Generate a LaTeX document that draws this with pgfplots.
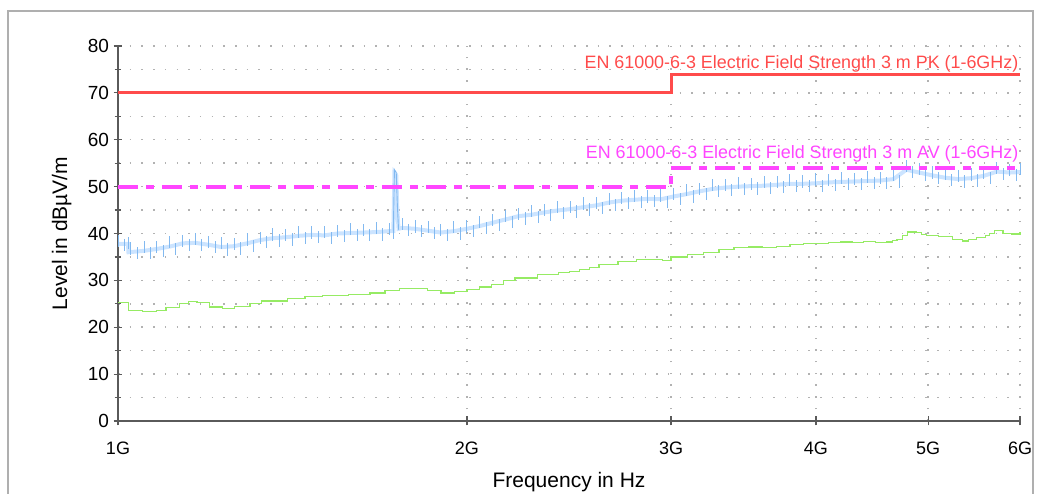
\documentclass[border=0pt]{standalone}
\usepackage{fontspec}
\setmainfont{Liberation Sans}
\usepackage{pgfplots}
\pgfplotsset{compat=1.18}
\definecolor{pkred}{RGB}{255,75,75}
\definecolor{avmag}{RGB}{255,70,255}
\definecolor{bandblue}{RGB}{204,228,255}
\definecolor{strokeblue}{RGB}{130,185,240}
\definecolor{avgreen}{RGB}{150,235,100}
\definecolor{framegray}{RGB}{175,175,175}
\definecolor{axgray}{RGB}{90,90,90}
\begin{document}
\begin{tikzpicture}[x=1bp,y=1bp]
\path[use as bounding box] (0,0) rectangle (1046,494);
\draw[color=framegray, line width=1.5bp] (8,-5) -- (8,483) -- (1033,483) -- (1033,-5);
\begin{axis}[
  at={(118bp,73bp)}, anchor=south west,
  scale only axis, width=902bp, height=375bp,
  xmode=log, xmin=1, xmax=6, ymin=0, ymax=80,
  axis x line=bottom, axis y line=left,
  axis line style={-, line width=1.5bp, color=axgray},
  xtick={1,2,3,4,5,6}, xticklabels={1G,2G,3G,4G,5G,6G},
  minor xtick={},
  ytick={0,10,...,80}, minor ytick={5,15,...,75},
  grid=both,
  major grid style={dash pattern=on 1.5bp off 10.2bp, color=black!30, line width=1.5bp},
  minor grid style={dash pattern=on 1.5bp off 10.2bp, color=black!30, line width=1.5bp},
  tick style={line width=1.2bp, color=axgray},
  major tick length=9bp, minor tick length=7bp, tick align=center,
  /pgf/number format/assume math mode=true,
  ticklabel style={text=black},
  yticklabel style={font=\fontsize{19bp}{21bp}\selectfont, xshift=-1bp},
  xticklabel style={font=\fontsize{18bp}{20bp}\selectfont, yshift=-13bp},
  xlabel={Frequency in Hz},
  ylabel={Level in dBµV/m},
  label style={font=\fontsize{21bp}{23bp}\selectfont},
  xlabel style={at={(axis description cs:0.5,0)}, anchor=base, yshift=-67bp},
  ylabel style={at={(axis description cs:-0.0565,0.5)}, anchor=base},
  clip=false,
]
% PK trace band
\addplot[color=bandblue, line width=4bp] coordinates {
(1.000,37.8) (1.020,37.8) (1.021,36.0) (1.053,36.3) (1.080,36.7) (1.108,37.2) (1.137,37.9)
(1.166,38.0) (1.197,37.6) (1.228,37.1) (1.260,37.3) (1.292,37.9) (1.326,38.6) (1.360,39.0)
(1.396,39.2) (1.432,39.5) (1.469,39.7) (1.507,39.6) (1.547,40.0) (1.587,40.1) (1.628,40.2)
(1.670,40.3) (1.714,40.5) (1.728,40.5) (1.732,53.0) (1.738,52.5) (1.742,45.0) (1.746,41.0)
(1.759,41.2) (1.804,41.0) (1.851,40.6) (1.899,40.2) (1.949,40.5) (2.000,41.0) (2.052,41.6)
(2.105,42.3) (2.160,43.0) (2.216,43.7) (2.274,44.0) (2.333,44.5) (2.393,44.9) (2.456,45.2)
(2.519,45.6) (2.585,46.0) (2.652,46.6) (2.721,47.0) (2.792,47.2) (2.865,47.4) (2.939,47.3)
(3.016,47.9) (3.094,48.4) (3.175,49.0) (3.257,49.5) (3.342,49.8) (3.429,50.0) (3.518,50.1)
(3.609,50.2) (3.703,50.4) (3.799,50.6) (3.898,50.6) (4.000,50.7) (4.104,50.9) (4.210,51.0)
(4.320,51.1) (4.432,51.2) (4.547,51.3) (4.666,51.6) (4.787,53.6) (4.911,53.0) (5.039,52.4)
(5.170,51.9) (5.305,51.6) (5.443,51.8) (5.584,52.3) (5.730,53.2) (5.879,53.0) (6.000,53.1)
};
% PK trace strokes
\addplot[draw=none, mark=none, forget plot,
  error bars/.cd, y dir=both, y fixed=1.3,
  error mark=none, error bar style={color=strokeblue, line width=0.9bp}] coordinates {
(1.000,38.4) (1.013,37.5) (1.020,38.0) (1.026,36.8) (1.039,35.8) (1.053,37.2) (1.066,35.9)
(1.080,37.1) (1.094,36.3) (1.108,38.1) (1.122,36.7) (1.137,38.4) (1.152,37.5)
(1.166,38.8) (1.181,37.6) (1.197,38.2) (1.213,37.1) (1.228,37.9) (1.244,36.6)
(1.260,37.8) (1.276,36.8) (1.292,38.7) (1.309,37.4) (1.326,39.1) (1.343,38.1)
(1.360,39.8) (1.378,38.5) (1.396,39.7) (1.414,38.7) (1.432,40.3) (1.451,39.0)
(1.469,40.2) (1.488,39.3) (1.507,40.4) (1.527,39.1) (1.547,40.5) (1.567,39.5)
(1.587,40.9) (1.608,39.6) (1.628,40.7) (1.649,39.7) (1.670,41.1) (1.692,39.8)
(1.714,41.0) (1.728,40.1)
(1.759,42.0) (1.782,40.7) (1.804,41.5) (1.827,40.5) (1.851,41.4) (1.875,40.1)
(1.899,40.7) (1.924,39.7) (1.949,41.3) (1.974,40.0) (2.000,41.5) (2.026,40.5)
(2.052,42.4) (2.079,41.1) (2.105,42.8) (2.132,41.8) (2.160,43.8) (2.188,42.5)
(2.216,44.2) (2.245,43.2) (2.274,44.8) (2.304,43.5) (2.333,45.0) (2.363,44.0)
(2.393,45.7) (2.424,44.4) (2.456,45.7) (2.488,44.7) (2.519,46.4) (2.552,45.1)
(2.585,46.5) (2.619,45.5) (2.652,47.4) (2.686,46.1) (2.721,47.5) (2.756,46.5)
(2.792,48.0) (2.828,46.7) (2.865,47.9) (2.902,46.9) (2.939,48.1) (2.977,46.8)
(3.016,48.4) (3.055,47.4) (3.094,49.2) (3.134,47.9) (3.175,49.5) (3.216,48.5)
(3.257,50.3) (3.299,49.0) (3.342,50.3) (3.385,49.3) (3.429,50.8) (3.474,49.5)
(3.518,50.6) (3.564,49.6) (3.609,51.0) (3.656,49.7) (3.703,50.9) (3.751,49.9)
(3.799,51.4) (3.848,50.1) (3.898,51.1) (3.949,50.1) (4.000,51.5) (4.052,50.2)
(4.104,51.4) (4.157,50.4) (4.210,51.8) (4.265,50.5) (4.320,51.6) (4.376,50.6)
(4.432,52.0) (4.490,50.7) (4.547,51.8) (4.606,50.8) (4.666,52.4) (4.726,51.1)
(4.787,54.4) (4.849,53.1) (4.911,53.8) (4.975,52.5) (5.039,53.0) (5.104,51.9)
(5.170,52.7) (5.237,51.4) (5.305,52.2) (5.374,51.1) (5.443,52.6) (5.514,51.3)
(5.584,52.9) (5.656,51.8) (5.730,54.0) (5.804,52.7) (5.879,53.6) (5.955,52.5)
(6.000,53.7)
};
% spike
\addplot[color=strokeblue, line width=0.9bp] coordinates {
(1.728,40.5) (1.732,53.6) (1.738,53.0) (1.742,46.0) (1.746,40.8)
};
% AV trace
\addplot[const plot, color=avgreen, line width=1.2bp] coordinates {
(1.000,25.2) (1.021,23.6) (1.05,23.3) (1.08,23.6) (1.10,24.2) (1.13,25.0) (1.15,25.5)
(1.17,25.2) (1.20,24.3) (1.23,24.0) (1.26,24.4) (1.30,25.0) (1.33,25.6) (1.40,26.2)
(1.45,26.5) (1.50,26.7) (1.58,26.9) (1.65,27.3) (1.70,27.9) (1.75,28.2) (1.80,28.3)
(1.85,27.8) (1.90,27.3) (1.95,27.7) (2.00,28.1) (2.05,28.6) (2.10,29.2) (2.15,29.9)
(2.20,30.5) (2.30,31.2) (2.40,31.6) (2.45,31.9) (2.50,32.3) (2.55,32.8) (2.60,33.3)
(2.70,34.0) (2.80,34.4) (2.90,34.5) (2.95,34.2) (3.00,35.0) (3.10,35.5) (3.20,36.0)
(3.30,36.6) (3.40,37.0) (3.50,37.1) (3.60,37.0) (3.70,37.3) (3.80,37.6) (3.90,37.8)
(4.00,37.9) (4.10,38.0) (4.20,38.2) (4.30,38.1) (4.40,38.3) (4.50,38.1) (4.60,38.2)
(4.66,38.5) (4.70,38.8) (4.75,39.6) (4.80,40.3) (4.88,40.2) (4.93,39.8) (4.98,39.5)
(5.10,39.3) (5.25,38.8) (5.35,38.4) (5.42,38.8) (5.50,39.1) (5.60,39.5) (5.65,40.0)
(5.70,40.6) (5.80,40.0) (5.90,39.9) (6.00,40.3)
};
% PK limit
\addplot[color=pkred, line width=3bp] coordinates {(1,70) (3,70) (3,74) (6,74)};
% AV limit
\addplot[color=avmag, line width=4bp, dash pattern=on 20bp off 8bp on 8bp off 8bp] coordinates {(1,50) (3,50) (3,54) (6,54)};
\node[anchor=south east, text=pkred, inner sep=1.5bp, font=\fontsize{17.9bp}{19bp}\selectfont] at (axis cs:6,74) {EN 61000-6-3 Electric Field Strength 3 m PK (1-6GHz)};
\node[anchor=south east, text=avmag, inner sep=1.5bp, font=\fontsize{17.9bp}{19bp}\selectfont] at (axis cs:6,54.8) {EN 61000-6-3 Electric Field Strength 3 m AV (1-6GHz)};
\end{axis}
\end{tikzpicture}
\end{document}
